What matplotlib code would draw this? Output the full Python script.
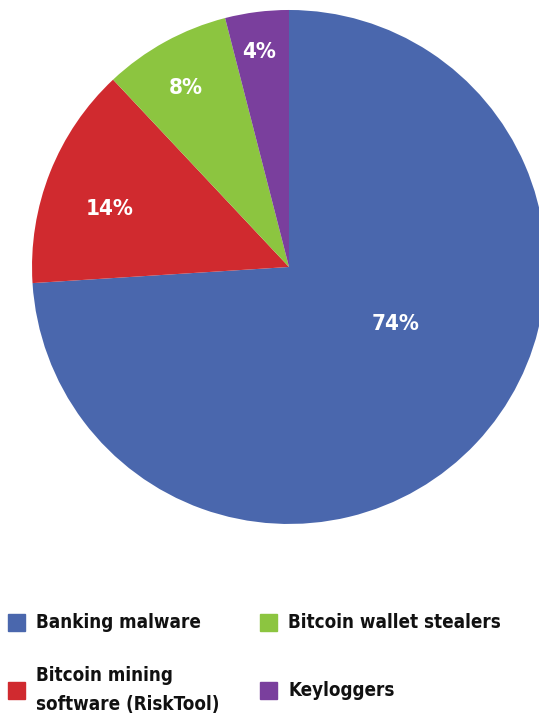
import matplotlib
matplotlib.use("Agg")
import numpy as np
import matplotlib.pyplot as plt
from matplotlib.patches import Rectangle

plt.rcParams['font.family'] = ['DejaVu Sans']
plt.rcParams['font.stretch'] = 'condensed'

categories = ["Banking malware", "Bitcoin mining\nsoftware (RiskTool)",
              "Bitcoin wallet stealers", "Keyloggers"]
shares = [74, 14, 8, 4]
colors = ["#4A67AD", "#D02A2F", "#8CC540", "#7A3F9D"]

# label placement (angle in degrees, fraction of radius)
label_ang = [-28, 162, 120, 98]
label_rad = [0.47, 0.733, 0.805, 0.845]

fig = plt.figure(figsize=(5.39, 7.17), dpi=100)
ax = fig.add_axes([0.0594, 0.2692, 0.9536, 0.7169])
ax.pie(shares, colors=colors, startangle=90, counterclock=False, radius=1,
       wedgeprops=dict(linewidth=0))
ax.set_xlim(-1, 1)
ax.set_ylim(-1, 1)
ax.set_aspect("equal")
ax.axis("off")

for v, a, r in zip(shares, label_ang, label_rad):
    t = np.deg2rad(a)
    ax.text(r * np.cos(t), r * np.sin(t), f"{v}%", color="white",
            fontsize=16, fontweight="bold", ha="center", va="center",
            fontstretch="condensed")

# legend, laid out by hand in figure pixels
W, H = 539, 717
leg_x = [8, 260, 8, 260]
leg_y = [622, 622, 690, 690]
order = [0, 2, 1, 3]
for k, i in enumerate(order):
    x, y = leg_x[k], leg_y[k]
    fig.patches.append(Rectangle((x / W, (H - y - 8.5) / H), 17 / W, 17 / H,
                                 transform=fig.transFigure, color=colors[i]))
    fig.text((x + 28) / W, (H - y) / H, categories[i], fontsize=13.5,
             fontweight="bold", ha="left", va="center", color="#111111",
             linespacing=1.7, fontstretch="condensed")

fig.savefig("out.png", dpi=100)
